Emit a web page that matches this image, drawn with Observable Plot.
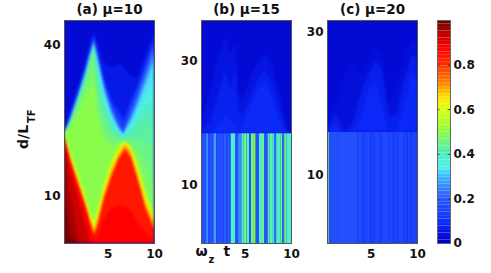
<!DOCTYPE html>
<html><head><meta charset="utf-8">
<script src="https://cdn.jsdelivr.net/npm/d3@7"></script>
<script src="https://cdn.jsdelivr.net/npm/@observablehq/plot@0.6"></script>
<style>
html,body{margin:0;padding:0;background:#fff}
#chart{position:relative;width:491px;height:273px;overflow:hidden}
#chart svg{position:absolute;top:0;background:transparent;overflow:visible}
.soft g[aria-label="area"]{filter:blur(.8px)}
</style></head><body><div id="chart"></div>
<script>
// Colour map
const mapStops  = [0,.08,.2,.3,.33,.4,.5,.6,.65,.7,.8,.87,.93,1];
const mapColors = ["#0000c8","#0a28f8","#2c5cff","#40c0ff","#50f0f0","#50ecb8","#90ff40","#e0ff10","#ffe000","#ff9000","#ff2800","#ff0000","#c00000","#600000"];
const barLevels = d3.range(64).map(i => i / 64);
const barTicks = [0,.2,.4,.6,.8];

// Panel (a): d/L_TF reached by each value, at each time
const tA = [.3,1,1.8,2.6,3.1,3.5,3.9,4.6,5.4,6.2,6.7,6.9,7.5,8.2,9.1,10];
const a05 = [22.4,27.4,32.2,37,40.6,43,40.6,36.6,35.4,36.2,35.8,35,33.8,33.4,38.6,42.6];
const a10 = [22.4,26.6,31,35.8,39.4,41.8,39,33.4,29,27,25.4,26,29,31.8,36.6,41.4];
const a13 = [22.4,26.3,30.7,35.5,39.1,41.5,38.7,33,28.4,25.8,24.1,25.1,28,31.2,36,40.8];
const a17 = [22.4,26,30.4,35.2,38.8,41.2,38.4,32.6,27.8,24.6,22.8,24.2,27,30.6,35.4,40.2];
const a21 = [22.4,25.8,30.2,35,38.5,40.9,38.1,32.2,27.4,24.2,22.6,23.8,26.4,29.8,34.6,39.4];
const a25 = [22.4,25.6,30,34.8,38.2,40.6,37.8,31.8,27,23.8,22.4,23.4,25.8,29,33.8,38.6];
const a28 = [22.4,25.4,29.8,34.5,38,40.4,37.4,31.4,26.6,23.5,22.3,23.2,25.3,28.4,33,37.6];
const a32 = [22.4,25.2,29.6,34.2,37.8,40.2,37,31,26.2,23.2,22.2,23,24.8,27.8,32.2,36.6];
const a35 = [22.4,25.1,29.4,34,37.6,40,36.2,30,25.4,22.8,22,22.6,24.1,26.6,30.1,33];
const a38 = [22.4,25,29.2,33.8,37.4,39.8,35.4,29,24.6,22.4,21.8,22.2,23.4,25.4,28,29.4];
const a41 = [22.4,24.9,29,33.6,37.2,39.6,34,27.8,23.8,22,21.6,21.9,22.6,24,25.7,26.7];
const a43 = [22.4,24.8,28.8,33.4,37,39.4,32.6,26.6,23,21.6,21.4,21.6,21.8,22.6,23.4,24];
const a45 = [22.4,24.6,28.5,32.9,36.3,38.6,30.8,25.3,22.4,21.3,21.1,21.3,21.3,21.3,20.7,20];
const a47 = [22.4,24.4,28.2,32.4,35.6,37.8,29,24,21.8,21,20.9,21,20.8,20,18,16];
const a50 = [22.4,24,27.3,31,33.5,34.9,27.5,22.5,20.6,20.6,20.8,20.9,20.3,18.7,15,11.7];
const a52 = [22.4,23.6,26.4,29.6,31.4,32,26,21,19.4,20.2,20.8,20.8,19.8,17.4,12,7.4];
const a58 = [22.4,19,14.6,10.2,7,5,7.4,12.6,17,19.8,20.7,20.7,19.8,16.6,10.6,6.2];
const a64 = [22.4,18,13.6,9.2,6.2,4,6.2,11.4,16,19,20.2,20.6,19.4,15.4,9.4,5.4];
const a70 = [22.2,17.4,13,8.6,5.4,3,5.2,10.2,14.8,18.2,19.6,20,18.6,14.2,8.2,4.6];
const a78 = [22,17,12.4,8,4.8,2.4,4,9.4,13.8,17.4,18.8,19.2,17.6,13.4,7.4,3.4];
const a85 = [21.6,16.4,11.8,7.4,4.2,1.4,2,5.4,7.4,8,8,8,7,4.6,2.6,1.4];
const a89 = [21,15.4,10.4,5,1,.8,.6,.6,.6,.6,.6,.6,.6,.6,.6,.6];
const a92 = [20.6,14.6,9,4,.8,.6,.6,.6,.6,.6,.6,.6,.6,.6,.6,.6];
const a95 = [19,10,1,.6,.6,.6,.6,.6,.6,.6,.6,.6,.6,.6,.6,.6];
const a98 = [10,2,.6,.6,.6,.6,.6,.6,.6,.6,.6,.6,.6,.6,.6,.6];

// Panel (b): upper part and the stripes below the break
const tB = [.3,1.28,2.15,2.92,3.46,4,4.33,4.77,5.64,6.4,7.17,7.82,8.69,9.46,10];
const b06 = [19.6,25.3,31,34.2,31,33.1,25.3,23.7,27.7,29.8,31.3,29.8,25.3,19.6,18.3];
const b10 = [18.3,20.4,24.5,28.5,25.3,28.5,22,21.2,24.5,26.9,28.5,26.9,22.8,18.8,18.3];
const b13 = [18.3,18.3,19.6,21.2,20.4,19.6,18.3,19.6,22.8,25.3,26.6,24.5,20.4,18.3,18.3];
const bEdges = [.3,.85,1.1,1.64,1.93,2.73,3.02,3.21,3.5,4.01,4.3,4.66,4.91,5.2,5.5,5.68,5.93,6.19,6.55,6.88,7.13,7.49,7.68,7.97,8.18,8.4,8.84,9.06,9.27,9.49,10];
const bStripes = [.17,.25,.17,.27,.17,.2,.17,.18,.37,.17,.25,.37,.45,.37,.18,.45,.5,.18,.38,.45,.18,.33,.43,.37,.22,.38,.43,.22,.45,.37];

// Panel (c)
const tC = [.3,1.16,2.13,3,3.86,4.72,5.47,6.23,6.98,7.74,8.6,9.46,10];
const c05 = [17,19.8,24,25.4,24,26.1,28,26.9,19.8,22.6,26.9,29,28.7];
const c09 = [16.1,18.8,16.1,17,21.2,24,26.1,24.7,18.4,18.4,23.3,26.9,26.1];
const c12 = [16.1,17,16.1,16.1,17.7,21.9,23.3,19.8,16.1,16.1,19.8,24,23.3];
const cEdges = [.3,.5,1.5,3.6,4.1,4.5,5,5.4,5.9,6.2,6.9,7.4,8,8.5,9,9.3,10];
const cStripes = [.45,.165,.17,.155,.14,.155,.135,.155,.14,.155,.15,.135,.16,.135,.15,.135];

const font = {fontFamily:"'DejaVu Sans',sans-serif",fontWeight:"bold",fontSize:"12px",background:"transparent",overflow:"visible"};
const color = {type:"linear",domain:mapStops,range:mapColors,clamp:true};

function tidy(ts, layers){
  return layers.flatMap(([v, ds]) => ts.map((t,i) => ({t, d:ds[i], v})));
}
function strips(edges, vals, d1, d2){
  return vals.map((v,i) => ({x1:edges[i], x2:edges[i+1], y1:d1, y2:d2, v}));
}
function panel({left,width,mL,mR,yDomain,yTicks,title,areas,base,stripes,extra=[]}){
  const svg = Plot.plot({
    width, height:273, marginLeft:mL, marginRight:mR, marginTop:20, marginBottom:30,
    style:font, className:"soft",
    x:{domain:[.3,10]}, y:{domain:yDomain}, color,
    marks:[
      Plot.rect([{v:.02}], {x1:.3,x2:10,y1:yDomain[0],y2:yDomain[1],fill:"v"}),
      Plot.areaY(areas, {x:"t",y1:()=>base,y2:"d",z:"v",fill:"v",clip:true}),
      Plot.rect(stripes, {x1:"x1",x2:"x2",y1:"y1",y2:"y2",fill:"v"}),
      Plot.frame({stroke:"#555",strokeWidth:1}),
      Plot.axisX({ticks:[5,10],tickSize:0,tickPadding:6,label:null,fill:"#111"}),
      Plot.axisY({ticks:yTicks,tickSize:0,tickPadding:4,label:null,fill:"#111"}),
      Plot.text([title],{frameAnchor:"top",dy:-16,fontSize:13.5,fill:"#111"}),
      ...extra
    ]
  });
  svg.style.left = left + "px";
  document.getElementById("chart").append(svg);
}

panel({left:0,width:166,mL:64,mR:12,yDomain:[.6,44.9],yTicks:[10,40],title:"(a) μ=10",base:.6,
  areas:tidy(tA,[[.05,a05],[.1,a10],[.13,a13],[.17,a17],[.21,a21],[.25,a25],[.28,a28],[.32,a32],[.35,a35],[.38,a38],[.41,a41],[.42,a43],[.44,a45],[.45,a47],[.47,a50],[.49,a52],[.56,a58],[.64,a64],[.7,a70],[.83,a78],[.87,a85],[.89,a89],[.92,a92],[.95,a95],[.98,a98]]),
  stripes:[],
  extra:[
    Plot.text(["d/L"],{frameAnchor:"left",dx:-41,dy:17,rotate:-90,fontSize:14,fill:"#111"}),
    Plot.text(["TF"],{frameAnchor:"left",dx:-33,dy:-9,rotate:-90,fontSize:10,fill:"#111"})
  ]});
panel({left:160,width:142,mL:41,mR:11,yDomain:[.57,36.6],yTicks:[10,30],title:"(b) μ=15",base:18.3,
  areas:tidy(tB,[[.04,b06],[.065,b10],[.085,b13]]),
  stripes:strips(bEdges,bStripes,.57,18.3),
  extra:[
    Plot.text(["ω"],{frameAnchor:"bottom-left",dx:-6,dy:12,fontSize:14,fill:"#111"}),
    Plot.text(["z"],{frameAnchor:"bottom-left",dx:7,dy:19,fontSize:10,fill:"#111"}),
    Plot.text(["t"],{frameAnchor:"bottom-left",dx:22,dy:12,fontSize:14,fill:"#111"})
  ]});
panel({left:290,width:140,mL:37,mR:13,yDomain:[.44,31.7],yTicks:[10,30],title:"(c) μ=20",base:16,
  areas:tidy(tC,[[.03,c05],[.06,c09],[.08,c12]]),
  stripes:strips(cEdges,cStripes,.44,16)});

const bar = Plot.plot({
  width:61,height:273,marginLeft:7,marginRight:41,marginTop:20,marginBottom:30,style:font,
  x:{domain:[0,1],axis:null},y:{domain:[0,1]},color,
  marks:[
    Plot.rect(barLevels,{x1:0,x2:1,y1:d=>d,y2:d=>d+1/64,fill:d=>d}),
    Plot.ruleY(barTicks,{x1:0,x2:.18,stroke:"#333"}),
    Plot.ruleY(barTicks,{x1:.82,x2:1,stroke:"#333"}),
    Plot.frame({stroke:"#666",strokeWidth:1}),
    Plot.axisY({anchor:"right",ticks:barTicks,tickFormat:d=>d===0?"0":String(d),tickSize:0,tickPadding:3,label:null,fill:"#111"})
  ]
});
bar.style.left = "430px";
document.getElementById("chart").append(bar);
</script></body></html>
